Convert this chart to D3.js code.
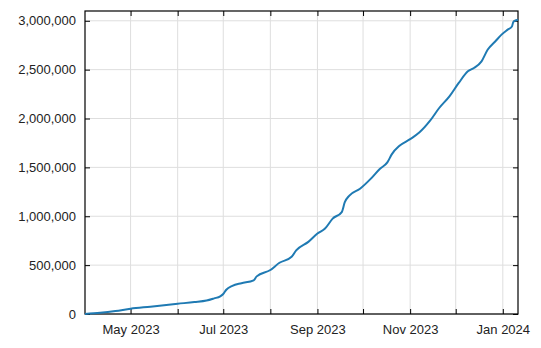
<!DOCTYPE html>
<html>
<head>
<meta charset="utf-8">
<script src="https://cdn.jsdelivr.net/npm/d3@7"></script>
<style>
  body { margin: 0; background: #fff; }
  svg { display: block; }
  text { font-family: "Liberation Sans", Arial, Helvetica, sans-serif; }
</style>
</head>
<body>
<div id="chart"></div>
<script>
// cumulative total, one point every few days
var dates = [
  "2023-04-01", "2023-04-11", "2023-04-21", "2023-05-01", "2023-05-14",
  "2023-06-01", "2023-06-12", "2023-06-20", "2023-06-25", "2023-06-29",
  "2023-07-01", "2023-07-03", "2023-07-07", "2023-07-13", "2023-07-21",
  "2023-07-23", "2023-08-01", "2023-08-07", "2023-08-15", "2023-08-18",
  "2023-08-26", "2023-09-01", "2023-09-06", "2023-09-11", "2023-09-17",
  "2023-09-19", "2023-09-22", "2023-09-29", "2023-10-06", "2023-10-12",
  "2023-10-17", "2023-10-20", "2023-10-25", "2023-11-01", "2023-11-07",
  "2023-11-14", "2023-11-20", "2023-11-27", "2023-12-03", "2023-12-09",
  "2023-12-13", "2023-12-18", "2023-12-22", "2023-12-27", "2023-12-31",
  "2024-01-04", "2024-01-07", "2024-01-08", "2024-01-11"
];
var totals = [
  0, 12000, 30000, 54000, 75000,
  105000, 122000, 138000, 160000, 180000,
  205000, 248000, 288000, 315000, 345000,
  385000, 450000, 524000, 585000, 650000,
  738000, 823000, 874000, 976000, 1043000,
  1144000, 1212000, 1281000, 1382000, 1484000,
  1551000, 1636000, 1721000, 1789000, 1856000,
  1975000, 2105000, 2229000, 2364000, 2483000,
  2517000, 2585000, 2703000, 2788000, 2856000,
  2907000, 2941000, 2991000, 3010000
];
var yTicks = [0, 500000, 1000000, 1500000, 2000000, 2500000, 3000000];
var xStart = "2023-04-01", xEnd = "2024-01-11";

var parse = d3.timeParse("%Y-%m-%d");
var data = dates.map(function(d, i) { return {date: parse(d), value: totals[i]}; });

var W = 541, H = 348;
var margin = {top: 11, right: 23, bottom: 34, left: 85},
    width = W - margin.left - margin.right,
    height = H - margin.top - margin.bottom;

var svg = d3.select("#chart").append("svg")
  .attr("width", W).attr("height", H)
  .append("g")
  .attr("transform", "translate(" + margin.left + "," + margin.top + ")");

var x = d3.scaleTime().domain([parse(xStart), parse(xEnd)]).range([0, width]);
var y = d3.scaleLinear().domain([0, 3100000]).range([height, 0]);

var months = d3.timeMonth.range(parse("2023-05-01"), parse(xEnd));

// grid
svg.append("g").selectAll("line").data(months).enter().append("line")
  .attr("x1", function(d) { return x(d); }).attr("x2", function(d) { return x(d); })
  .attr("y1", 0).attr("y2", height)
  .style("stroke", "#dedede").style("stroke-width", 1);
svg.append("g").selectAll("line").data(yTicks).enter().append("line")
  .attr("x1", 0).attr("x2", width)
  .attr("y1", function(d) { return y(d); }).attr("y2", function(d) { return y(d); })
  .style("stroke", "#dedede").style("stroke-width", 1);

// axes with inward ticks on all four sides
var fmtMonth = d3.timeFormat("%b %Y");
var xAxis = d3.axisBottom(x).tickValues(months).tickSize(-5).tickPadding(11)
  .tickFormat(function(d) { return d.getMonth() % 2 === 0 ? fmtMonth(d) : ""; });
var xTop = d3.axisTop(x).tickValues(months).tickSize(-5).tickFormat("");
var yAxis = d3.axisLeft(y).tickValues(yTicks).tickSize(-5).tickPadding(9)
  .tickFormat(d3.format(","));
var yRight = d3.axisRight(y).tickValues(yTicks).tickSize(-5).tickFormat("");

function styleAxis(g) {
  g.select(".domain").remove();
  g.selectAll(".tick line").style("stroke", "#000");
  g.selectAll("text").style("font-size", "13px").style("fill", "#222");
}
svg.append("g").attr("transform", "translate(0," + height + ")").call(xAxis).call(styleAxis);
svg.append("g").call(xTop).call(styleAxis);
svg.append("g").call(yAxis).call(styleAxis);
svg.append("g").attr("transform", "translate(" + width + ",0)").call(yRight).call(styleAxis);

// frame
svg.append("rect").attr("x", 0).attr("y", 0).attr("width", width).attr("height", height)
  .style("fill", "none").style("stroke", "#000").style("stroke-width", 1.2);

// series
var line = d3.line()
  .x(function(d) { return x(d.date); })
  .y(function(d) { return y(d.value); })
  .curve(d3.curveMonotoneX);

svg.append("path")
  .attr("d", line(data))
  .style("fill", "none")
  .style("stroke", "#1f7ab3")
  .style("stroke-width", 2);
</script>
</body>
</html>
